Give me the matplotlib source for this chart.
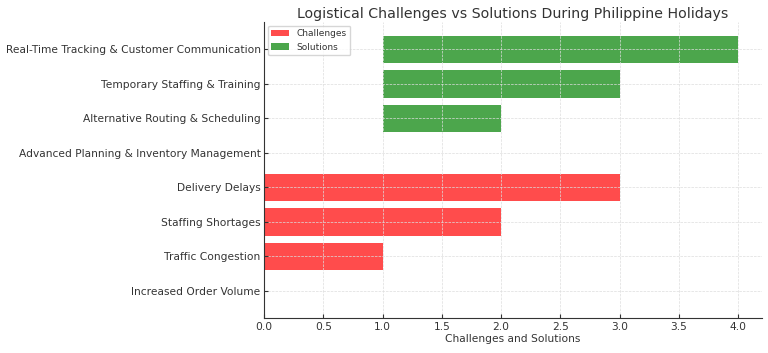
import matplotlib
matplotlib.use("Agg")
import matplotlib.pyplot as plt

categories = ["Increased Order Volume", "Traffic Congestion", "Staffing Shortages", "Delivery Delays",
              "Advanced Planning & Inventory Management", "Alternative Routing & Scheduling",
              "Temporary Staffing & Training", "Real-Time Tracking & Customer Communication"]
challenge_values = [0, 1, 2, 3]
solution_start = [1, 1, 1, 1]
solution_end = [1, 2, 3, 4]

plt.rcParams['text.color'] = '#333333'
plt.rcParams['axes.labelcolor'] = '#333333'
plt.rcParams['xtick.color'] = '#333333'
plt.rcParams['ytick.color'] = '#333333'

fig = plt.figure(figsize=(7.68, 3.53), dpi=100)
ax = fig.add_axes([0.344, 0.099, 0.648, 0.8385])

ypos = list(range(len(categories)))
ax.barh(ypos[:4], challenge_values, height=0.8, color='red', alpha=0.7, label='Challenges')
widths = [e - s for s, e in zip(solution_start, solution_end)]
ax.barh(ypos[4:], widths, left=solution_start, height=0.8, color='green', alpha=0.7, label='Solutions')

ax.set_yticks(ypos)
ax.set_yticklabels(categories, fontsize=7.7)
ax.set_xticks([0, 0.5, 1, 1.5, 2, 2.5, 3, 3.5, 4])
ax.set_xticklabels(['0.0', '0.5', '1.0', '1.5', '2.0', '2.5', '3.0', '3.5', '4.0'], fontsize=7.7)
ax.set_xlim(0, 4.2)
ax.tick_params(direction='in', length=3, pad=2.5)
ax.set_xlabel('Challenges and Solutions', fontsize=7.7, labelpad=2)
ax.set_title('Logistical Challenges vs Solutions During Philippine Holidays', fontsize=10.2, pad=3)
ax.grid(True, linestyle='--', color='#dddddd', linewidth=0.5)
for s in ['top', 'right']:
    ax.spines[s].set_visible(False)
for s in ['left', 'bottom']:
    ax.spines[s].set_color('#333333')
ax.legend(loc='upper left', fontsize=6.5, frameon=True, handlelength=2.0, borderaxespad=0.4)

fig.savefig('out.png', dpi=100)
